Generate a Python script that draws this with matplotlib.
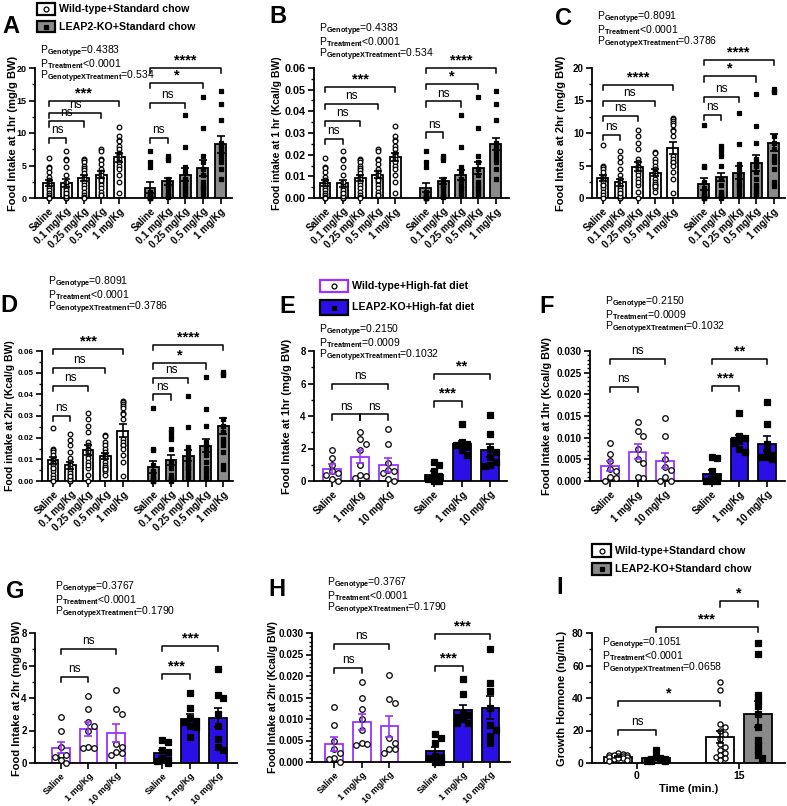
import numpy as np
import matplotlib.pyplot as plt
import matplotlib.transforms as mtransforms
from matplotlib.patches import Rectangle
from matplotlib.lines import Line2D
from matplotlib.ticker import AutoMinorLocator, FormatStrFormatter

plt.rcParams['font.family'] = ['Liberation Sans', 'DejaVu Sans']
plt.rcParams['font.weight'] = 'bold'
plt.rcParams['axes.labelweight'] = 'bold'
plt.rcParams['mathtext.fontset'] = 'custom'
plt.rcParams['mathtext.rm'] = 'Liberation Sans'

# ---------------- data ----------------
doses_sc = ['Saline', '0.1 mg/Kg', '0.25 mg/Kg', '0.5 mg/Kg', '1 mg/Kg']
doses_hf = ['Saline', '1 mg/Kg', '10 mg/Kg']

# A: food intake 1 hr (mg/g BW), standard chow
a_wt_mean = [2.3, 2.3, 3.1, 3.6, 6.3]
a_wt_sem = [0.4, 0.55, 0.5, 0.55, 0.7]
a_ko_mean = [1.6, 2.6, 3.6, 4.6, 8.3]
a_ko_sem = [0.9, 0.55, 1.0, 1.2, 1.3]
a_wt_pts = [
    [6.2, 4.8, 4.6, 4.0, 3.2, 2.8, 2.5, 2.3, 2.0, 1.6, 1.2, 0.8, 0.4, 0.2, 0.0, 0.0],
    [7.2, 6.0, 5.8, 4.8, 3.5, 2.0, 1.5, 1.0, 0.5, 0.2, 0.0, 0.0, 0.3, 1.2, 2.5, 0.8],
    [6.0, 5.9, 5.5, 5.0, 4.6, 4.3, 3.5, 3.0, 2.5, 2.0, 1.5, 1.0, 0.5, 0.2, 3.8, 0.0],
    [7.5, 7.2, 6.0, 5.8, 5.2, 4.5, 4.0, 3.5, 3.0, 2.5, 2.0, 1.5, 1.0, 0.5, 0.5, 2.8],
    [11.0, 9.5, 9.0, 8.8, 8.0, 7.5, 7.0, 6.8, 6.5, 6.0, 5.5, 5.0, 4.5, 3.5, 2.5, 0.8],
]
a_ko_pts = [
    [7.3, 5.5, 4.8, 1.0, 0.5, 0.2, 0.0, 0.0, 0.0, 0.0, 0.3, 0.1],
    [6.5, 6.2, 5.8, 3.0, 2.5, 2.0, 1.5, 1.0, 0.5, 0.3, 1.8, 0.2],
    [12.7, 7.8, 4.8, 4.0, 3.0, 2.5, 2.0, 1.5, 1.0, 0.5, 2.8, 1.5],
    [15.5, 10.7, 6.5, 5.5, 4.5, 3.5, 2.5, 2.0, 1.5, 1.0, 0.5, 1.5],
    [16.5, 14.5, 12.0, 8.5, 8.0, 7.5, 7.0, 6.5, 5.5, 4.5, 3.0, 6.0],
]

# B: food intake 1 hr (Kcal/g BW), standard chow
b_wt_mean = [0.0069, 0.0068, 0.0093, 0.0107, 0.0190]
b_wt_sem = [0.0012, 0.0017, 0.0015, 0.0016, 0.0020]
b_ko_mean = [0.0047, 0.0078, 0.0107, 0.0138, 0.0250]
b_ko_sem = [0.0020, 0.0015, 0.0024, 0.0027, 0.0027]
b_wt_pts = [
    [0.0186, 0.0144, 0.0138, 0.012, 0.0096, 0.0084, 0.0075, 0.0069, 0.006, 0.0048, 0.0036, 0.0024, 0.0012, 0.0006, 0.0, 0.0],
    [0.0216, 0.018, 0.0174, 0.0144, 0.0105, 0.006, 0.0045, 0.003, 0.0015, 0.0006, 0.0, 0.0, 0.0009, 0.0036, 0.0075, 0.0024],
    [0.018, 0.0177, 0.0165, 0.015, 0.0138, 0.0129, 0.0105, 0.009, 0.0075, 0.006, 0.0045, 0.003, 0.0015, 0.0006, 0.0114, 0.0],
    [0.0225, 0.0216, 0.018, 0.0174, 0.0156, 0.0135, 0.012, 0.0105, 0.009, 0.0075, 0.006, 0.0045, 0.003, 0.0015, 0.0015, 0.0084],
    [0.033, 0.0285, 0.027, 0.0264, 0.024, 0.0225, 0.021, 0.0204, 0.0195, 0.018, 0.0165, 0.015, 0.0135, 0.0105, 0.0075, 0.0024],
]
b_ko_pts = [
    [0.0219, 0.0165, 0.0144, 0.003, 0.0015, 0.0006, 0.0, 0.0, 0.0, 0.0, 0.0009, 0.0003],
    [0.0195, 0.0186, 0.0174, 0.009, 0.0075, 0.006, 0.0045, 0.003, 0.0015, 0.0009, 0.0054, 0.0006],
    [0.0381, 0.0234, 0.0144, 0.012, 0.009, 0.0075, 0.006, 0.0045, 0.003, 0.0015, 0.0084, 0.0045],
    [0.0465, 0.0321, 0.0195, 0.0165, 0.0135, 0.0105, 0.0075, 0.006, 0.0045, 0.003, 0.0015, 0.0045],
    [0.0495, 0.0435, 0.036, 0.0255, 0.024, 0.0225, 0.021, 0.0195, 0.0165, 0.0135, 0.009, 0.018],
]

# C: food intake 2 hr (mg/g BW), standard chow
c_wt_mean = [3.1, 2.4, 4.8, 3.9, 7.7]
c_wt_sem = [0.5, 0.55, 0.7, 0.55, 0.9]
c_ko_mean = [2.2, 3.2, 3.9, 5.4, 8.5]
c_ko_sem = [0.9, 0.65, 0.95, 1.2, 1.3]
c_wt_pts = [
    [8.2, 5.0, 4.8, 4.5, 3.5, 3.2, 3.0, 2.8, 2.5, 2.0, 1.5, 1.0, 0.5, 0.0, 4.0, 2.0],
    [7.2, 6.3, 5.5, 4.5, 3.5, 3.0, 2.5, 2.0, 1.5, 1.0, 0.5, 0.0, 0.0, 0.3, 1.2, 0.8],
    [10.5, 9.5, 8.5, 7.5, 6.0, 5.5, 5.0, 4.8, 4.5, 4.0, 3.5, 3.0, 2.0, 1.0, 0.0, 2.5],
    [7.1, 7.0, 6.0, 5.5, 5.0, 4.5, 4.0, 3.8, 3.5, 3.0, 2.5, 2.0, 1.5, 1.0, 2.2, 1.8],
    [12.3, 12.1, 11.8, 11.5, 11.2, 10.5, 10.3, 9.5, 6.5, 5.5, 6.0, 5.5, 5.0, 4.0, 3.0, 0.8],
]
c_ko_pts = [
    [11.2, 5.0, 4.7, 2.5, 1.5, 1.0, 0.5, 0.2, 0.0, 0.0, 0.0, 0.3],
    [8.0, 7.5, 7.0, 6.5, 5.0, 3.0, 2.0, 1.0, 0.5, 0.2, 0.0, 0.3],
    [13.1, 8.3, 5.3, 4.5, 3.5, 3.0, 2.5, 2.0, 1.5, 1.0, 0.5, 2.0],
    [16.0, 11.1, 8.5, 6.0, 5.5, 5.0, 4.0, 3.0, 2.0, 1.5, 1.0, 0.5],
    [16.8, 16.5, 16.3, 9.5, 8.5, 7.5, 6.5, 6.0, 5.5, 4.5, 2.5, 1.8],
]

# D: food intake 2 hr (Kcal/g BW), standard chow
d_wt_mean = [0.0095, 0.0072, 0.0143, 0.0115, 0.0232]
d_wt_sem = [0.0015, 0.0015, 0.0022, 0.0015, 0.0030]
d_ko_mean = [0.0065, 0.0097, 0.0117, 0.0162, 0.0255]
d_ko_sem = [0.0027, 0.0022, 0.0025, 0.0030, 0.0037]
d_wt_pts = [
    [0.0246, 0.015, 0.0144, 0.0135, 0.0105, 0.0096, 0.009, 0.0084, 0.0075, 0.006, 0.0045, 0.003, 0.0015, 0.0, 0.012, 0.006],
    [0.0216, 0.0189, 0.0165, 0.0135, 0.0105, 0.009, 0.0075, 0.006, 0.0045, 0.003, 0.0015, 0.0, 0.0, 0.0009, 0.0036, 0.0024],
    [0.0315, 0.0285, 0.0255, 0.0225, 0.018, 0.0165, 0.015, 0.0144, 0.0135, 0.012, 0.0105, 0.009, 0.006, 0.003, 0.0, 0.0075],
    [0.0213, 0.021, 0.018, 0.0165, 0.015, 0.0135, 0.012, 0.0114, 0.0105, 0.009, 0.0075, 0.006, 0.0045, 0.003, 0.0066, 0.0054],
    [0.0369, 0.0363, 0.0354, 0.0345, 0.0336, 0.0315, 0.0309, 0.0285, 0.0195, 0.0165, 0.018, 0.0165, 0.015, 0.012, 0.009, 0.0024],
]
d_ko_pts = [
    [0.0336, 0.015, 0.0141, 0.0075, 0.0045, 0.003, 0.0015, 0.0006, 0.0, 0.0, 0.0, 0.0009],
    [0.024, 0.0225, 0.021, 0.0195, 0.015, 0.009, 0.006, 0.003, 0.0015, 0.0006, 0.0, 0.0009],
    [0.0393, 0.0249, 0.0159, 0.0135, 0.0105, 0.009, 0.0075, 0.006, 0.0045, 0.003, 0.0015, 0.006],
    [0.048, 0.0333, 0.0255, 0.018, 0.0165, 0.015, 0.012, 0.009, 0.006, 0.0045, 0.003, 0.0015],
    [0.0504, 0.0495, 0.0489, 0.0285, 0.0255, 0.0225, 0.0195, 0.018, 0.0165, 0.0135, 0.0075, 0.0054],
]

# E: 1 hr (mg/g BW), high-fat diet
e_wt_mean = [0.76, 1.48, 1.0]
e_wt_sem = [0.3, 0.4, 0.42]
e_ko_mean = [0.4, 2.3, 1.9]
e_ko_sem = [0.22, 0.18, 0.4]
e_wt_pts = [[1.9, 1.4, 1.0, 0.6, 0.5, 0.4, 0.1, 0.0],
            [3.0, 2.6, 2.3, 1.9, 1.0, 0.4, 0.3, 0.2],
            [3.2, 2.3, 1.1, 0.7, 0.6, 0.5, 0.1, 0.0]]
e_ko_pts = [[1.2, 1.0, 0.6, 0.3, 0.2, 0.1, 0.0, 0.0],
            [3.5, 2.4, 2.3, 2.2, 2.1, 2.0, 1.9, 1.6],
            [4.05, 2.9, 2.0, 1.8, 1.5, 1.2, 1.0, 0.9]]

# F: 1 hr (Kcal/g BW), high-fat diet
f_wt_mean = [0.0035, 0.0068, 0.0047]
f_wt_sem = [0.0011, 0.0017, 0.0018]
f_ko_mean = [0.0017, 0.0098, 0.0086]
f_ko_sem = [0.0008, 0.0008, 0.0017]
f_wt_pts = [[0.0088, 0.0063, 0.0047, 0.0028, 0.0022, 0.0010, 0.0008, 0.0],
            [0.0137, 0.0115, 0.0104, 0.0073, 0.0041, 0.0050, 0.0008, 0.0010],
            [0.0145, 0.0105, 0.0050, 0.0032, 0.0025, 0.0010, 0.0, 0.0]]
f_ko_pts = [[0.0056, 0.0052, 0.0022, 0.0010, 0.0005, 0.0, 0.0, 0.0001],
            [0.0158, 0.0105, 0.0100, 0.0095, 0.0092, 0.0088, 0.0075, 0.0068],
            [0.0183, 0.0131, 0.0085, 0.0070, 0.0060, 0.0055, 0.0050, 0.0055]]

# G: 2 hr (mg/g BW), high-fat diet
g_wt_mean = [0.95, 2.1, 1.85]
g_wt_sem = [0.35, 0.45, 0.55]
g_ko_mean = [0.6, 2.7, 2.8]
g_ko_sem = [0.2, 0.3, 0.6]
g_wt_pts = [[2.85, 2.0, 1.0, 0.5, 0.5, 0.4, 0.2, 0.0],
            [4.1, 3.3, 2.5, 2.3, 2.0, 1.0, 0.9, 0.9],
            [4.5, 3.3, 3.0, 1.2, 1.0, 0.7, 0.6, 0.5]]
g_ko_pts = [[1.4, 1.3, 0.8, 0.7, 0.3, 0.1, 0.0, 0.2],
            [4.3, 3.4, 2.8, 2.6, 2.5, 2.3, 2.2, 1.6],
            [5.8, 4.2, 4.0, 3.0, 2.3, 1.5, 1.0, 0.8]]

# H: 2 hr (Kcal/g BW), high-fat diet
h_wt_mean = [0.0042, 0.0093, 0.0083]
h_wt_sem = [0.0016, 0.0019, 0.0025]
h_ko_mean = [0.0025, 0.0120, 0.0126]
h_ko_sem = [0.0010, 0.0013, 0.0027]
h_wt_pts = [[0.0129, 0.0087, 0.0049, 0.0030, 0.0020, 0.0010, 0.0008, 0.0],
            [0.0185, 0.0149, 0.0123, 0.0100, 0.0075, 0.0045, 0.0042, 0.0040],
            [0.0203, 0.0147, 0.0137, 0.0055, 0.0045, 0.0030, 0.0030, 0.0020]]
h_ko_pts = [[0.0065, 0.0055, 0.0045, 0.0015, 0.0010, 0.0, 0.0, 0.0012],
            [0.0192, 0.0157, 0.0115, 0.0110, 0.0105, 0.0100, 0.0090, 0.0090],
            [0.0262, 0.0183, 0.0165, 0.0125, 0.0085, 0.0075, 0.0060, 0.0045]]

# I: growth hormone (ng/mL) at 0 and 15 min
times = ['0', '15']
i_wt_mean = [4.0, 16.0]
i_wt_sem = [0.5, 3.5]
i_ko_mean = [2.8, 30.0]
i_ko_sem = [0.6, 8.0]
i_wt_pts = [[6.0, 5.5, 5.0, 4.8, 4.5, 4.2, 4.0, 3.8, 3.5, 3.0, 2.5, 2.0, 1.5, 5.2, 3.3],
            [50, 45, 24, 22, 20, 18, 15, 12, 10, 8, 6, 4, 3, 5, 2]]
i_ko_pts = [[7.8, 3.5, 3.0, 2.5, 2.2, 2.0, 1.8, 1.5, 1.2, 1.0],
            [74, 67, 42, 38, 35, 30, 22, 14, 11, 8, 5, 3]]

# ---------------- layout helpers ----------------
W, H = 787, 806
fig = plt.figure(figsize=(W / 100, H / 100), dpi=100)

GRAY = '#8a8a8a'
PURPLE = '#9933ff'
BLUE = '#2a0fe6'


def add_ax(x0, x1, ytop, ybot, tsize):
    ax = fig.add_axes([x0 / W, 1 - ybot / H, (x1 - x0) / W, (ybot - ytop) / H])
    for s in ['top', 'right']:
        ax.spines[s].set_visible(False)
    for s in ['left', 'bottom']:
        ax.spines[s].set_linewidth(1.3)
    ax.tick_params(width=1.2, length=4, labelsize=tsize, pad=2)
    ax.tick_params(which='minor', width=1, length=2)
    return ax


def place_ylabel(ax, text, size, xc):
    ax.set_ylabel(text, fontsize=size)
    tr = mtransforms.blended_transform_factory(fig.transFigure, ax.transAxes)
    ax.yaxis.set_label_coords(xc / W, 0.5, transform=tr)
    ax.yaxis.label.set_verticalalignment('center')


def swarm(vals, dy, dx, maxoff):
    vals = np.asarray(vals, float)
    xs = np.zeros(len(vals))
    placed = []
    cands = [0.0]
    k = 1
    while k * dx <= maxoff + 1e-9:
        cands += [k * dx, -k * dx]
        k += 1
    for n, i in enumerate(np.argsort(-vals)):
        best = None
        for c in cands:
            if all(abs(c - px) >= dx * 0.95 or abs(vals[i] - py) >= dy for px, py in placed):
                best = c
                break
        if best is None:
            best = cands[n % len(cands)]
        xs[i] = best
        placed.append((best, vals[i]))
    return xs


def group(ax, pos, means, sems, pts, face, edge, ecol, marker, mface, width, dy, dx, ms):
    ax.bar(pos, means, width, color=face, edgecolor=edge, linewidth=1.3, zorder=1)
    for p, v in zip(pos, pts):
        off = swarm(v, dy, dx, width * 0.38)
        ax.scatter(p + off, v, marker=marker, s=ms, facecolors=mface, edgecolors='black',
                   linewidths=0.9, zorder=3, clip_on=False)
    ax.errorbar(pos, means, yerr=sems, fmt='none', ecolor=ecol, elinewidth=1.2,
                capsize=3, capthick=1.2, zorder=4)


def bracket(ax, x1, x2, y, txt, h):
    ax.plot([x1, x1, x2, x2], [y - h, y, y, y - h], color='black', lw=1.1,
            clip_on=False, zorder=5)
    if txt == 'ns':
        ax.text((x1 + x2) / 2, y + h * 0.35, txt, ha='center', va='bottom',
                fontsize=8.5, fontweight='normal', clip_on=False)
    else:
        ax.text((x1 + x2) / 2, y + h * 0.1, txt, ha='center', va='bottom',
                fontsize=10.5, fontweight='bold', clip_on=False)


def ptext(x, y, vals):
    subs = ['Genotype', 'Treatment', 'GenotypeXTreatment']
    for k, (sub, v) in enumerate(zip(subs, vals)):
        fig.text(x / W, 1 - (y + k * 12.5) / H, r'P$_{\mathrm{%s}}$%s' % (sub, v),
                 fontsize=7.5, fontweight='normal', va='center', ha='left')


def letter(x, y, t):
    fig.text(x / W, 1 - y / H, t, fontsize=17, fontweight='bold', va='baseline', ha='left')


def legend_entry(x, y, w, h, face, edge, marker, mface, label):
    fig.add_artist(Rectangle((x / W, 1 - (y + h) / H), w / W, h / H, facecolor=face,
                             edgecolor=edge, linewidth=1.6, transform=fig.transFigure))
    fig.add_artist(Line2D([(x + w / 2) / W], [1 - (y + h / 2) / H], marker=marker, ms=3.5,
                          mfc=mface, mec='black', mew=0.9, linestyle='none',
                          transform=fig.transFigure))
    fig.text((x + w + 4) / W, 1 - (y + h / 2) / H, label, fontsize=7.7, fontweight='bold',
             va='center', ha='left')


def dose_panel(box, xlim, ko_start, n, wt, ko, styles, ymax, ystep, fmt, ylabel, labels,
               brk_wt, brk_ko, width, ms, minor, tsize, lsize, lx, xsize=7):
    ax = add_ax(*box, tsize)
    pos_wt = np.arange(n, dtype=float)
    pos_ko = pos_wt + ko_start
    ppu_y = (box[3] - box[2]) / ymax
    ppu_x = (box[1] - box[0]) / (xlim[1] - xlim[0])
    diam = np.sqrt(ms) * 1.39
    dy = diam / ppu_y
    dx = diam / ppu_x
    group(ax, pos_wt, *wt, *styles[0], width, dy, dx, ms)
    group(ax, pos_ko, *ko, *styles[1], width, dy, dx, ms)
    ax.set_xlim(*xlim)
    ax.set_ylim(0, ymax)
    ax.set_yticks(np.arange(0, ymax + ystep / 2, ystep))
    ax.yaxis.set_major_formatter(FormatStrFormatter(fmt))
    ax.yaxis.set_minor_locator(AutoMinorLocator(minor))
    ax.set_xticks(np.concatenate([pos_wt, pos_ko]))
    ax.set_xticklabels(labels + labels, rotation=45, ha='right', rotation_mode='anchor',
                       fontsize=xsize)
    place_ylabel(ax, ylabel, lsize, lx)
    hh = ymax * 0.04
    for (i, j, y, t) in brk_wt:
        bracket(ax, pos_wt[i], pos_wt[j], y, t, hh)
    for (i, j, y, t) in brk_ko:
        bracket(ax, pos_ko[i], pos_ko[j], y, t, hh)
    return ax


sc_styles = [('white', 'black', 'black', 'o', 'white'),
             (GRAY, 'black', 'black', 's', 'black')]
hf_styles = [('white', PURPLE, PURPLE, 'o', 'white'),
             (BLUE, 'black', 'black', 's', 'black')]

# ---------------- panel A ----------------
dose_panel((35, 232, 68, 198), (-0.77, 10.4), 5.75, 5,
           (a_wt_mean, a_wt_sem, a_wt_pts), (a_ko_mean, a_ko_sem, a_ko_pts),
           sc_styles, 20, 5, '%d', 'Food Intake at 1hr (mg/g BW)', doses_sc,
           [(0, 1, 9.2, 'ns'), (0, 2, 11.8, 'ns'), (0, 3, 13.1, 'ns'), (0, 4, 14.9, '***')],
           [(0, 1, 9.2, 'ns'), (0, 2, 14.6, 'ns'), (0, 3, 17.7, '*'), (0, 4, 20.0, '****')],
           0.62, 11, 2, 6.5, 8, 13)
ptext(40, 52, ['=0.4383', '<0.0001', '=0.534'])
letter(2, 33, 'A')
legend_entry(37, 3, 18, 12, 'white', 'black', 'o', 'white', 'Wild-type+Standard chow')
legend_entry(37, 21, 18, 11, GRAY, 'black', 's', 'black', 'LEAP2-KO+Standard chow')

# ---------------- panel B ----------------
dose_panel((314, 509, 68, 198), (-0.63, 10.5), 5.75, 5,
           (b_wt_mean, b_wt_sem, b_wt_pts), (b_ko_mean, b_ko_sem, b_ko_pts),
           sc_styles, 0.06, 0.01, '%.2f', 'Food intake at 1 hr (Kcal/g BW)', doses_sc,
           [(0, 1, 0.0272, 'ns'), (0, 2, 0.0354, 'ns'), (0, 3, 0.0435, 'ns'), (0, 4, 0.0512, '***')],
           [(0, 1, 0.0303, 'ns'), (0, 2, 0.0446, 'ns'), (0, 3, 0.0528, '*'), (0, 4, 0.060, '****')],
           0.62, 11, 2, 7.8, 7.5, 277)
ptext(319, 30, ['=0.4383', '<0.0001', '=0.534'])
letter(269, 23, 'B')

# ---------------- panel C ----------------
dose_panel((592, 785, 68, 198), (-0.62, 10.4), 5.75, 5,
           (c_wt_mean, c_wt_sem, c_wt_pts), (c_ko_mean, c_ko_sem, c_ko_pts),
           sc_styles, 20, 5, '%d', 'Food Intake at 2hr (mg/g BW)', doses_sc,
           [(0, 1, 9.7, 'ns'), (0, 2, 12.6, 'ns'), (0, 3, 15.0, 'ns'), (0, 4, 17.4, '****')],
           [(0, 1, 12.8, 'ns'), (0, 2, 15.5, 'ns'), (0, 3, 18.7, '*'), (0, 4, 21.3, '****')],
           0.62, 11, 2, 7, 8, 561)
ptext(597, 18, ['=0.8091', '<0.0001', '=0.3786'])
letter(555, 25, 'C')

# ---------------- panel D ----------------
dose_panel((42, 233, 351, 481), (-0.63, 10.3), 5.75, 5,
           (d_wt_mean, d_wt_sem, d_wt_pts), (d_ko_mean, d_ko_sem, d_ko_pts),
           sc_styles, 0.06, 0.01, '%.2f', 'Food intake at 2hr (Kcal/g BW)', doses_sc,
           [(0, 1, 0.030, 'ns'), (0, 2, 0.0438, 'ns'), (0, 3, 0.0523, 'ns'), (0, 4, 0.0608, '***')],
           [(0, 1, 0.040, 'ns'), (0, 2, 0.0477, 'ns'), (0, 3, 0.0543, '*'), (0, 4, 0.063, '****')],
           0.62, 11, 2, 5.8, 7.5, 10)
ptext(48, 283, ['=0.8091', '<0.0001', '=0.3786'])
letter(0, 312, 'D')

# ---------------- panel E ----------------
dose_panel((314, 507, 351, 481), (-0.64, 6.2), 3.6, 3,
           (e_wt_mean, e_wt_sem, e_wt_pts), (e_ko_mean, e_ko_sem, e_ko_pts),
           hf_styles, 8, 2, '%d', 'Food Intake at 1hr (mg/g BW)', doses_hf,
           [(0, 1, 4.1, 'ns'), (1, 2, 4.1, 'ns'), (0, 2, 6.0, 'ns')],
           [(0, 1, 4.9, '***'), (0, 2, 6.6, '**')],
           0.64, 16, 2, 7, 8, 287)
ptext(319, 331, ['=0.2150', '=0.0009', '=0.1032'])
letter(279, 313, 'E')
legend_entry(320, 280, 28, 12, 'white', PURPLE, 'o', 'white', 'Wild-type+High-fat diet')
legend_entry(320, 300, 28, 15, BLUE, 'black', 's', 'black', 'LEAP2-KO+High-fat diet')

# ---------------- panel F ----------------
dose_panel((590, 785, 351, 481), (-0.73, 6.36), 3.7, 3,
           (f_wt_mean, f_wt_sem, f_wt_pts), (f_ko_mean, f_ko_sem, f_ko_pts),
           hf_styles, 0.030, 0.005, '%.3f', 'Food Intake at 1hr (Kcal/g BW)', doses_hf,
           [(0, 1, 0.0217, 'ns'), (0, 2, 0.0281, 'ns')],
           [(0, 1, 0.0219, '***'), (0, 2, 0.0281, '**')],
           0.64, 16, 5, 7.2, 7.8, 547)
ptext(605, 303, ['=0.2150', '=0.0009', '=0.1032'])
letter(539, 313, 'F')

# ---------------- panel G ----------------
dose_panel((35, 237, 633, 763), (-0.93, 6.36), 3.67, 3,
           (g_wt_mean, g_wt_sem, g_wt_pts), (g_ko_mean, g_ko_sem, g_ko_pts),
           hf_styles, 8, 2, '%d', 'Food Intake at 2hr (mg/g BW)', doses_hf,
           [(0, 1, 5.3, 'ns'), (0, 2, 7.0, 'ns')],
           [(0, 1, 5.5, '***'), (0, 2, 7.2, '***')],
           0.64, 16, 2, 7, 8, 17, 6.5)
ptext(55, 588, ['=0.3767', '<0.0001', '=0.1790'])
letter(6, 598, 'G')

# ---------------- panel H ----------------
dose_panel((312, 510, 633, 762), (-0.8, 6.36), 3.65, 3,
           (h_wt_mean, h_wt_sem, h_wt_pts), (h_ko_mean, h_ko_sem, h_ko_pts),
           hf_styles, 0.030, 0.005, '%.3f', 'Food Intake at 2hr (Kcal/g BW)', doses_hf,
           [(0, 1, 0.0219, 'ns'), (0, 2, 0.0275, 'ns')],
           [(0, 1, 0.0223, '***'), (0, 2, 0.0298, '***')],
           0.64, 16, 5, 7.2, 7.6, 273, 6.5)
ptext(327, 584, ['=0.3767', '<0.0001', '=0.1790'])
letter(268, 596, 'H')

# ---------------- panel I ----------------
ax = add_ax(592, 785, 633, 763, 7.5)
xc = np.arange(len(times), dtype=float)
off = 0.185
ppu_y = 130 / 80
ppu_x = 193 / 1.89
dyI = 4.5 / ppu_y
dxI = 4.5 / ppu_x
group(ax, xc - off, i_wt_mean, i_wt_sem, i_wt_pts, 'white', 'black', 'black', 'o', 'white',
      0.27, dyI, dxI, 14)
group(ax, xc + off, i_ko_mean, i_ko_sem, i_ko_pts, GRAY, 'black', 'black', 's', 'black',
      0.27, dyI, dxI, 14)
ax.set_xlim(-0.44, 1.45)
ax.set_ylim(0, 80)
ax.set_yticks([0, 20, 40, 60, 80])
ax.yaxis.set_minor_locator(AutoMinorLocator(2))
ax.set_xticks(xc)
ax.set_xticklabels(times, fontsize=7.5)
ax.set_xlabel('Time (min.)', fontsize=8, labelpad=2)
place_ylabel(ax, 'Growth Hormone (ng/mL)', 8, 562)
bracket(ax, -off, off, 20.5, 'ns', 3.2)
bracket(ax, -off, 1 - off, 38, '*', 3.2)
bracket(ax, off, 1 + off, 84, '***', 3.2)
bracket(ax, 1 - off, 1 + off, 99.5, '*', 3.2)
ptext(602, 644, ['=0.1051', '<0.0001', '=0.0658'])
letter(556, 594, 'I')
legend_entry(592, 544, 19, 13, 'white', 'black', 'o', 'white', 'Wild-type+Standard chow')
legend_entry(592, 563, 19, 12, GRAY, 'black', 's', 'black', 'LEAP2-KO+Standard chow')

fig.savefig('out.png', dpi=100)
